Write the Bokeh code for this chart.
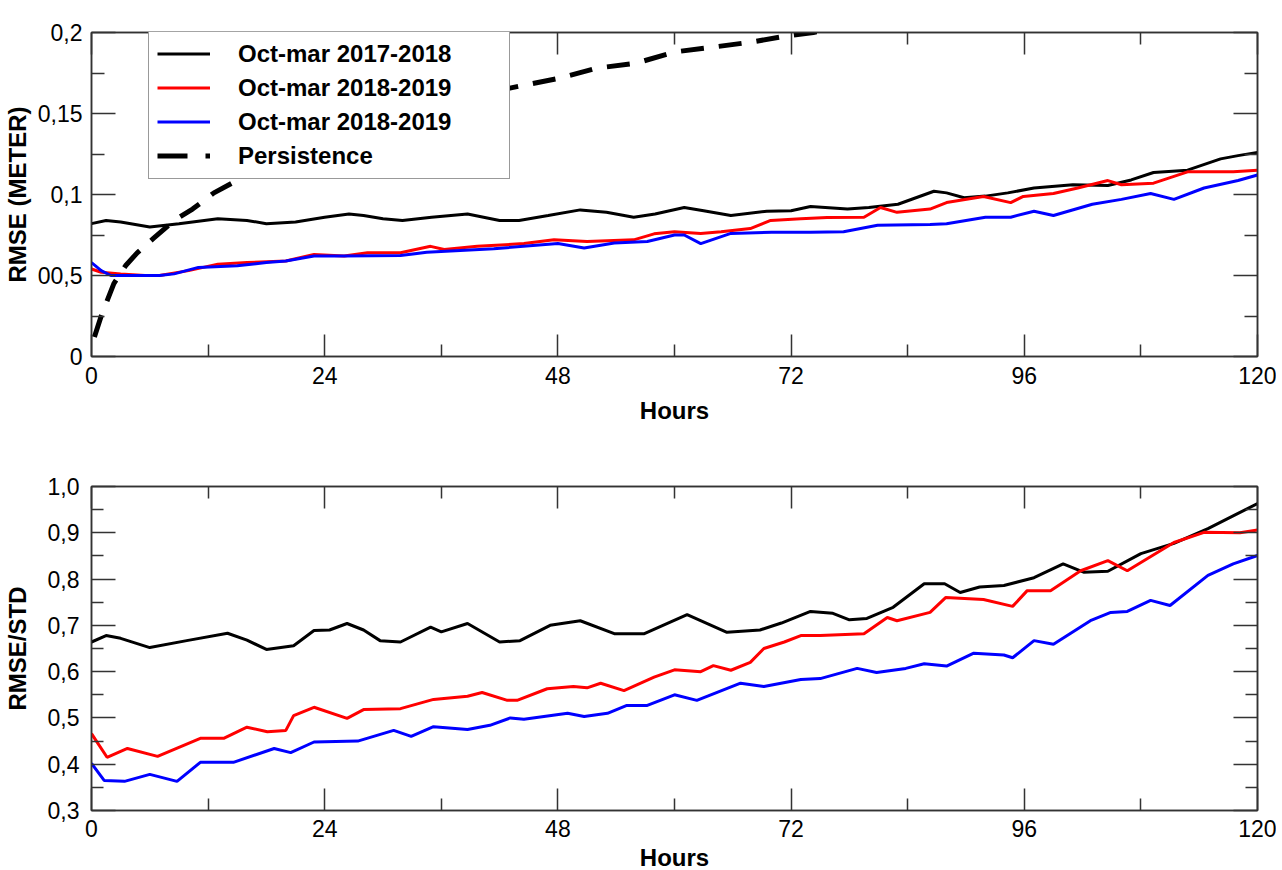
import numpy as np
from bokeh.plotting import figure
from bokeh.models import (Range1d, FixedTicker, LinearAxis, Legend, LegendItem,
                          CustomJSTickFormatter, CustomLabelingPolicy)
from bokeh.layouts import column
from bokeh.embed import file_html
from bokeh.resources import INLINE

# ---------------- data ----------------
labels = ["Oct-mar 2017-2018", "Oct-mar 2018-2019", "Oct-mar 2018-2019", "Persistence"]

# Top panel: RMSE (meter)
top_black_h = [0, 1.5, 3, 6, 9, 13, 16, 18, 21, 24, 26.5, 28, 30, 32, 35, 38.7, 42, 44, 47, 50.3,
               53, 55.8, 58, 61, 63, 65.8, 69.5, 72, 74, 77.8, 80, 83, 86.7, 88, 89.8, 92, 94.3,
               97, 101, 104.6, 107, 109.3, 112.8, 116.2, 118, 120]
top_black_v = [0.082, 0.084, 0.083, 0.080, 0.082, 0.085, 0.084, 0.082, 0.083, 0.086, 0.088, 0.087,
               0.085, 0.084, 0.086, 0.088, 0.084, 0.084, 0.087, 0.0905, 0.089, 0.086, 0.088, 0.092,
               0.090, 0.087, 0.0897, 0.090, 0.0926, 0.091, 0.092, 0.094, 0.102, 0.101, 0.098, 0.099,
               0.101, 0.104, 0.106, 0.1056, 0.109, 0.1136, 0.115, 0.122, 0.124, 0.126]

top_red_h = [0, 1, 3, 5.5, 7, 10, 13, 16, 20, 22.9, 26, 28.4, 31.8, 34.9, 36.3, 39.7, 44.5, 47.6,
             51, 55.8, 57.9, 60, 62.7, 64.8, 67.8, 69.9, 73, 75.7, 79.5, 81.2, 82.9, 86.3, 88,
             91.8, 94.6, 95.9, 99, 101.5, 104.6, 106, 109.3, 112.8, 117.5, 120]
top_red_v = [0.054, 0.052, 0.051, 0.050, 0.050, 0.053, 0.057, 0.058, 0.059, 0.063, 0.062, 0.064,
             0.064, 0.068, 0.066, 0.068, 0.0697, 0.072, 0.071, 0.072, 0.0757, 0.077, 0.076, 0.077,
             0.079, 0.084, 0.085, 0.0858, 0.086, 0.092, 0.089, 0.091, 0.095, 0.0988, 0.095, 0.0988,
             0.1006, 0.104, 0.1086, 0.106, 0.107, 0.114, 0.114, 0.115]

top_blue_h = [0, 1, 2, 4, 7, 8.5, 11, 15, 18, 20, 22.9, 26, 31.8, 34.5, 41.4, 48, 50.7, 53.8, 57.2,
              60, 61, 62.7, 65.8, 70, 74, 77.4, 80.9, 86.3, 88, 92, 94.6, 97, 99, 103, 106, 109,
              111.4, 114.5, 118, 120]
top_blue_v = [0.058, 0.053, 0.050, 0.050, 0.050, 0.051, 0.055, 0.056, 0.058, 0.059, 0.062, 0.062,
              0.0623, 0.0643, 0.0665, 0.0697, 0.067, 0.070, 0.071, 0.075, 0.075, 0.0697, 0.076,
              0.0767, 0.0767, 0.077, 0.081, 0.0815, 0.082, 0.086, 0.086, 0.0897, 0.087, 0.094,
              0.097, 0.1006, 0.097, 0.104, 0.1086, 0.112]

persist_h = [0.3, 1, 2.3, 3.5, 4.7, 6.4, 8.5, 10.4, 12.6, 16, 20, 24, 28, 32, 36, 40, 43.3, 48, 52,
             56, 60, 64, 67.8, 71.7, 74.3, 76]
persist_v = [0.012, 0.025, 0.045, 0.056, 0.064, 0.073, 0.084, 0.091, 0.101, 0.112, 0.124, 0.133,
             0.141, 0.149, 0.156, 0.162, 0.166, 0.1716, 0.178, 0.181, 0.188, 0.191, 0.194, 0.198,
             0.200, 0.202]

# Bottom panel: RMSE/STD
bot_black_h = [0, 1.5, 3, 6, 9.8, 14, 16, 18, 20.8, 22.9, 24.5, 26.3, 28, 29.7, 31.8, 34.9, 36,
               38.7, 42, 44.1, 47.2, 50.3, 53.8, 56.9, 61.3, 65.4, 68.8, 71, 74, 76.3, 78, 79.8,
               82.5, 85.7, 87.8, 89.4, 91.4, 93.9, 97, 100, 102.1, 104.6, 108, 111.4, 114.9, 118, 120]
bot_black_v = [0.664, 0.678, 0.672, 0.652, 0.667, 0.683, 0.668, 0.648, 0.656, 0.689, 0.690, 0.704,
               0.690, 0.667, 0.664, 0.696, 0.686, 0.704, 0.664, 0.667, 0.700, 0.710, 0.682, 0.682,
               0.723, 0.685, 0.690, 0.705, 0.730, 0.726, 0.712, 0.715, 0.739, 0.790, 0.790, 0.771,
               0.783, 0.786, 0.803, 0.833, 0.815, 0.817, 0.855, 0.877, 0.909, 0.942, 0.963]

bot_red_h = [0, 1.6, 3.7, 6.8, 11.2, 13.6, 16, 18.1, 20, 20.8, 22.9, 26.3, 28, 31.8, 35.2, 38.7,
             40.2, 42.8, 43.8, 46.9, 49.6, 51, 52.4, 54.8, 57.9, 60, 62.7, 64, 65.8, 67.8, 69.2,
             71.3, 73, 75, 79.5, 81.9, 82.9, 86.3, 87.9, 91.8, 94.8, 96.3, 98.7, 101.8, 104.6,
             106.6, 111.4, 114.5, 118.2, 120]
bot_red_v = [0.466, 0.415, 0.434, 0.417, 0.456, 0.456, 0.480, 0.470, 0.473, 0.505, 0.523, 0.499,
             0.518, 0.520, 0.540, 0.547, 0.555, 0.538, 0.538, 0.563, 0.568, 0.565, 0.575, 0.559,
             0.588, 0.604, 0.600, 0.613, 0.603, 0.620, 0.650, 0.664, 0.678, 0.678, 0.682, 0.717,
             0.710, 0.728, 0.760, 0.756, 0.741, 0.775, 0.775, 0.818, 0.840, 0.818, 0.879, 0.901,
             0.900, 0.906]

bot_blue_h = [0, 1.3, 3.4, 6, 8.8, 11.2, 14.6, 18.8, 20.5, 22.9, 27.4, 31.1, 32.9, 35.2, 38.7, 41,
              43.1, 44.5, 49, 50.7, 53.1, 55.1, 57.2, 60, 62.3, 66.8, 69.2, 73, 75, 78.8, 80.8,
              83.8, 85.7, 88, 90.8, 93.9, 94.8, 97, 99, 102.8, 104.9, 106.6, 109, 111, 114.9,
              117.5, 120]
bot_blue_v = [0.402, 0.365, 0.363, 0.378, 0.363, 0.404, 0.404, 0.434, 0.425, 0.448, 0.450, 0.473,
              0.460, 0.481, 0.475, 0.484, 0.500, 0.497, 0.510, 0.503, 0.510, 0.527, 0.527, 0.550,
              0.538, 0.575, 0.568, 0.583, 0.585, 0.607, 0.598, 0.607, 0.617, 0.612, 0.640, 0.636,
              0.630, 0.667, 0.659, 0.710, 0.728, 0.730, 0.754, 0.743, 0.808, 0.833, 0.851]

x_major = [0, 24, 48, 72, 96, 120]
x_minor = [12, 36, 60, 84, 108]

top_y_major = [0, 0.05, 0.1, 0.15, 0.2]
top_y_labels = ["0", "00,5", "0,1", "0,15", "0,2"]
top_y_minor = [0.025, 0.075, 0.125, 0.175]

bot_y_major = [0.3, 0.4, 0.5, 0.6, 0.7, 0.8, 0.9, 1.0]
bot_y_labels = ["0,3", "0,4", "0,5", "0,6", "0,7", "0,8", "0,9", "1,0"]
bot_y_minor = [0.35, 0.45, 0.55, 0.65, 0.75, 0.85, 0.95]

# ---------------- styling ----------------
FONT = "Liberation Sans"
FRAME = "#333333"


def style_axis(ax, ticks, minor, tick_in, minor_in, show=True):
    ax.ticker = FixedTicker(ticks=ticks, minor_ticks=minor)
    ax.major_tick_in = tick_in
    ax.major_tick_out = 0
    ax.minor_tick_in = minor_in
    ax.minor_tick_out = 0
    ax.axis_line_color = FRAME
    ax.axis_line_width = 1.5
    ax.major_tick_line_color = FRAME
    ax.major_tick_line_width = 1.5
    ax.minor_tick_line_color = FRAME
    ax.minor_tick_line_width = 1.5
    ax.major_label_text_font = FONT
    ax.major_label_text_color = "black"
    ax.axis_label_text_font = FONT
    ax.axis_label_text_font_style = "bold"
    ax.axis_label_text_font_size = "24px"
    ax.axis_label_text_color = "black"
    if show:
        ax.major_label_text_font_size = "23px"
    else:
        # mirrored tick marks only: no labels drawn on this side
        ax.major_label_text_font_size = "8px"
        ax.major_label_standoff = 0
        ax.formatter = CustomJSTickFormatter(code='return "";')
        ax.major_label_policy = CustomLabelingPolicy(
            code="for (const i of indices) { indices.unset(i) }")


def make_panel(y0, y1, ymaj, ylabs, ymin, ylabel, btop, bbottom, ystandoff, ylab_standoff,
               ytick_in, yminor_in, xstandoff, xlab_standoff):
    p = figure(frame_width=1166, frame_height=324,
               x_range=Range1d(0, 120), y_range=Range1d(y0, y1),
               output_backend="svg", toolbar_location=None,
               min_border_left=91, min_border_right=19,
               min_border_top=btop, min_border_bottom=bbottom)
    p.xgrid.visible = False
    p.ygrid.visible = False
    p.outline_line_color = FRAME
    p.outline_line_width = 1.5
    p.background_fill_color = "white"
    p.border_fill_color = "white"

    xa = p.xaxis[0]
    style_axis(xa, x_major, x_minor, 22, 12)
    xa.axis_label = "Hours"
    xa.major_label_standoff = xstandoff
    xa.axis_label_standoff = xlab_standoff

    ya = p.yaxis[0]
    style_axis(ya, ymaj, ymin, ytick_in, yminor_in)
    ya.axis_label = ylabel
    ya.major_label_standoff = ystandoff
    ya.axis_label_standoff = ylab_standoff
    ya.formatter = CustomJSTickFormatter(
        args=dict(vals=ymaj, labs=ylabs),
        code="""
        for (let i = 0; i < vals.length; i++) {
            if (Math.abs(vals[i] - tick) < 1e-9) { return labs[i]; }
        }
        return "";
        """)

    top_ax = LinearAxis()
    style_axis(top_ax, x_major, x_minor, 22, 12, show=False)
    p.add_layout(top_ax, "above")
    right_ax = LinearAxis()
    style_axis(right_ax, ymaj, ymin, ytick_in, yminor_in, show=False)
    p.add_layout(right_ax, "right")
    return p


# ---------------- top panel ----------------
p1 = make_panel(0, 0.2, top_y_major, top_y_labels, top_y_minor, "RMSE (METER)",
                32, 84, 9, 4, 24, 13, 10, 10)
r_pers = p1.line(persist_h, persist_v, line_color="black", line_width=5,
                 line_dash="23 15", line_cap="butt")
r_b = p1.line(top_black_h, top_black_v, line_color="black", line_width=3)
r_r = p1.line(top_red_h, top_red_v, line_color="#ff0000", line_width=3)
r_u = p1.line(top_blue_h, top_blue_v, line_color="#0000ff", line_width=3)
# legend-only glyph showing the dash-dot symbol of the persistence curve
r_pers_key = p1.line([np.nan], [np.nan], line_color="black", line_width=5,
                     line_dash="30 18 5 20", line_cap="butt")

legend = Legend(items=[LegendItem(label=labels[0], renderers=[r_b]),
                       LegendItem(label=labels[1], renderers=[r_r]),
                       LegendItem(label=labels[2], renderers=[r_u]),
                       LegendItem(label=labels[3], renderers=[r_pers_key])],
                location=(57, 324 - 147),
                padding=8, spacing=5, margin=0,
                glyph_width=53, glyph_height=29, label_height=29,
                label_standoff=28, label_width=263,
                label_text_font=FONT, label_text_font_style="bold",
                label_text_font_size="24px", label_text_color="black",
                border_line_color=FRAME, border_line_width=1.5,
                background_fill_color="white", background_fill_alpha=1.0)
p1.add_layout(legend)

# ---------------- bottom panel ----------------
p2 = make_panel(0.3, 1.0, bot_y_major, bot_y_labels, bot_y_minor, "RMSE/STD",
                46, 60, 12, 14, 24, 12, 9, 4)
p2.line(bot_black_h, bot_black_v, line_color="black", line_width=3)
p2.line(bot_red_h, bot_red_v, line_color="#ff0000", line_width=3)
p2.line(bot_blue_h, bot_blue_v, line_color="#0000ff", line_width=3)

layout = column(p1, p2, spacing=0)
open("out.html", "w").write(file_html(layout, INLINE))
